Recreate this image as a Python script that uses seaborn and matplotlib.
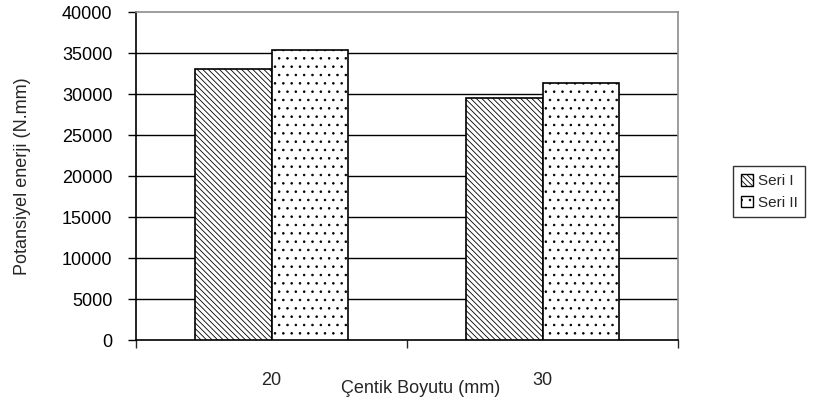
import pandas as pd
import matplotlib
matplotlib.use("Agg")
import matplotlib.pyplot as plt
import matplotlib.patches as mpatches
import seaborn as sns

# veriler
boyutlar = ["20", "30"]
seriler = ["Seri I", "Seri II"]
seri1 = [33000, 29500]
seri2 = [35400, 31400]
y_ticks = [0, 5000, 10000, 15000, 20000, 25000, 30000, 35000, 40000]

df = pd.DataFrame({
    "boyut": boyutlar * 2,
    "seri": [seriler[0]] * 2 + [seriler[1]] * 2,
    "enerji": seri1 + seri2,
})

sns.set_style("white")
plt.rcParams["font.family"] = ["Liberation Sans", "DejaVu Sans"]
plt.rcParams["hatch.linewidth"] = 0.6

fig = plt.figure(figsize=(8.16, 4.03), dpi=100)
ax = fig.add_axes([0.1667, 0.156, 0.6642, 0.814])

sns.barplot(data=df, x="boyut", y="enerji", hue="seri", order=boyutlar,
            hue_order=seriler, width=0.565, gap=0,
            palette=["white", "white"], edgecolor="black", linewidth=1.2,
            legend=False, ax=ax, zorder=3)

hatches = {"Seri I": "\\\\\\\\\\\\", "Seri II": ".."}
for cont, s in zip(ax.containers, seriler):
    for p in cont:
        p.set_hatch(hatches[s])
        p.set_facecolor("white")
        p.set_edgecolor("black")

# yatay ızgara
for v in y_ticks[1:-1]:
    ax.axhline(v, color="black", lw=1.0, zorder=1)

ax.set_ylim(0, 40000)
ax.set_xlim(-0.5, 1.5)
ax.set_yticks(y_ticks)
ax.tick_params(axis="y", labelsize=13, length=6, width=1, direction="out",
               colors="black", left=True, pad=11)
ax.set_xticks([0, 1])
ax.set_xticklabels(boyutlar)
ax.set_xticks([-0.5, 0.5, 1.5], minor=True)
ax.tick_params(axis="x", which="major", length=0, pad=23, labelsize=13)
ax.tick_params(axis="x", which="minor", length=6, width=1, direction="out",
               bottom=True)

for side in ["top", "right"]:
    ax.spines[side].set_color("#8c8c8c")
    ax.spines[side].set_linewidth(1.2)
for side in ["left", "bottom"]:
    ax.spines[side].set_color("black")
    ax.spines[side].set_linewidth(1.2)

ax.set_ylabel("Potansiyel enerji (N.mm)", fontsize=13, labelpad=22)
ax.set_xlabel("Çentik Boyutu (mm)", fontsize=13)
ax.xaxis.label.set_va("center")
ax.xaxis.set_label_coords(0.526, -0.148)

handles = [mpatches.Patch(facecolor="white", edgecolor="black",
                          hatch=hatches[s], label=s) for s in seriler]
leg = fig.legend(handles=handles, loc="center left",
                 bbox_to_anchor=(0.889, 0.524), fontsize=11,
                 frameon=True, fancybox=False, handlelength=0.8,
                 handleheight=0.8, handletextpad=0.3, borderpad=0.5,
                 labelspacing=0.5)
leg.get_frame().set_edgecolor("black")
leg.get_frame().set_linewidth(1.0)

fig.savefig("out.png", dpi=100)
